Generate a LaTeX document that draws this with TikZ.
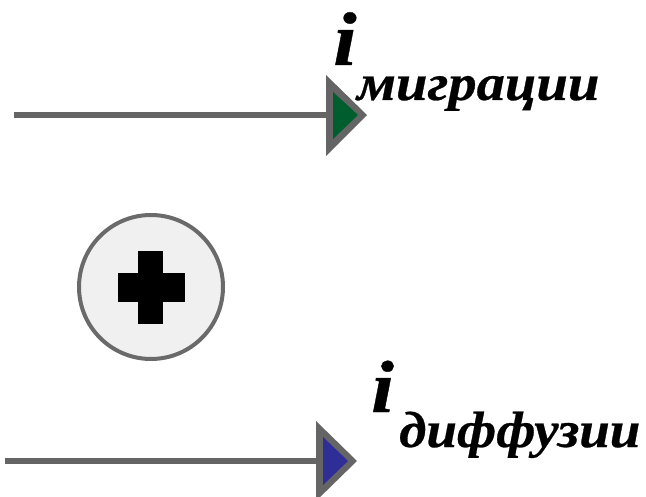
\documentclass[tikz,border=0pt]{standalone}
\usepackage{fontspec}
\setmainfont{Liberation Serif}
\newfontfamily\lblfont{Liberation Serif}[FakeBold=0.5]
\begin{document}
\begin{tikzpicture}[x=1pt,y=-1pt,
  wire/.style={line width=5.5pt,draw=linegray},
  headout/.style={fill=linegray},
  lbl/.style={inner sep=0pt,anchor=base west,xscale=1.11,font=\lblfont\bfseries\itshape}]
\definecolor{linegray}{HTML}{656565}
\definecolor{headgreen}{HTML}{005E2E}
\definecolor{headblue}{HTML}{2E2E96}
\definecolor{circfill}{HTML}{F0F0F0}
\definecolor{circline}{HTML}{6A6A6A}
\useasboundingbox (0,0) rectangle (646,497);
% top arrow
\coordinate (s1) at (14,115);
\coordinate (h1) at (327,115);
\draw[wire] (s1) -- (h1);
\fill[headout] (326,75) -- (367,115) -- (326,156) -- cycle;
\fill[headgreen] (333,92) -- (358,115) -- (333,139) -- cycle;
% bottom arrow
\coordinate (s2) at (5,461);
\coordinate (h2) at (317,461);
\draw[wire] (s2) -- (h2);
\fill[headout] (316,421) -- (357,461) -- (316,501) -- cycle;
\fill[headblue] (323,437) -- (348,461) -- (323,485) -- cycle;
% plus circle
\node[circle,minimum size=144pt,inner sep=0pt,fill=circfill,draw=circline,line width=4pt] (plus) at (151,287) {};
\fill (118,273) rectangle (185,302);
\fill (138,251) rectangle (163,324);
% labels
\node[lbl] (i1) at (333,65) {\fontsize{76}{76}\selectfont i};
\node[lbl] (m1) at (357,100) {\fontsize{51}{51}\selectfont миграции};
\node[lbl] (i2) at (371,412) {\fontsize{74}{74}\selectfont i};
\node[lbl,xscale=0.97] (d2) at (399,447) {\fontsize{51}{51}\selectfont диффузии};
\end{tikzpicture}
\end{document}
